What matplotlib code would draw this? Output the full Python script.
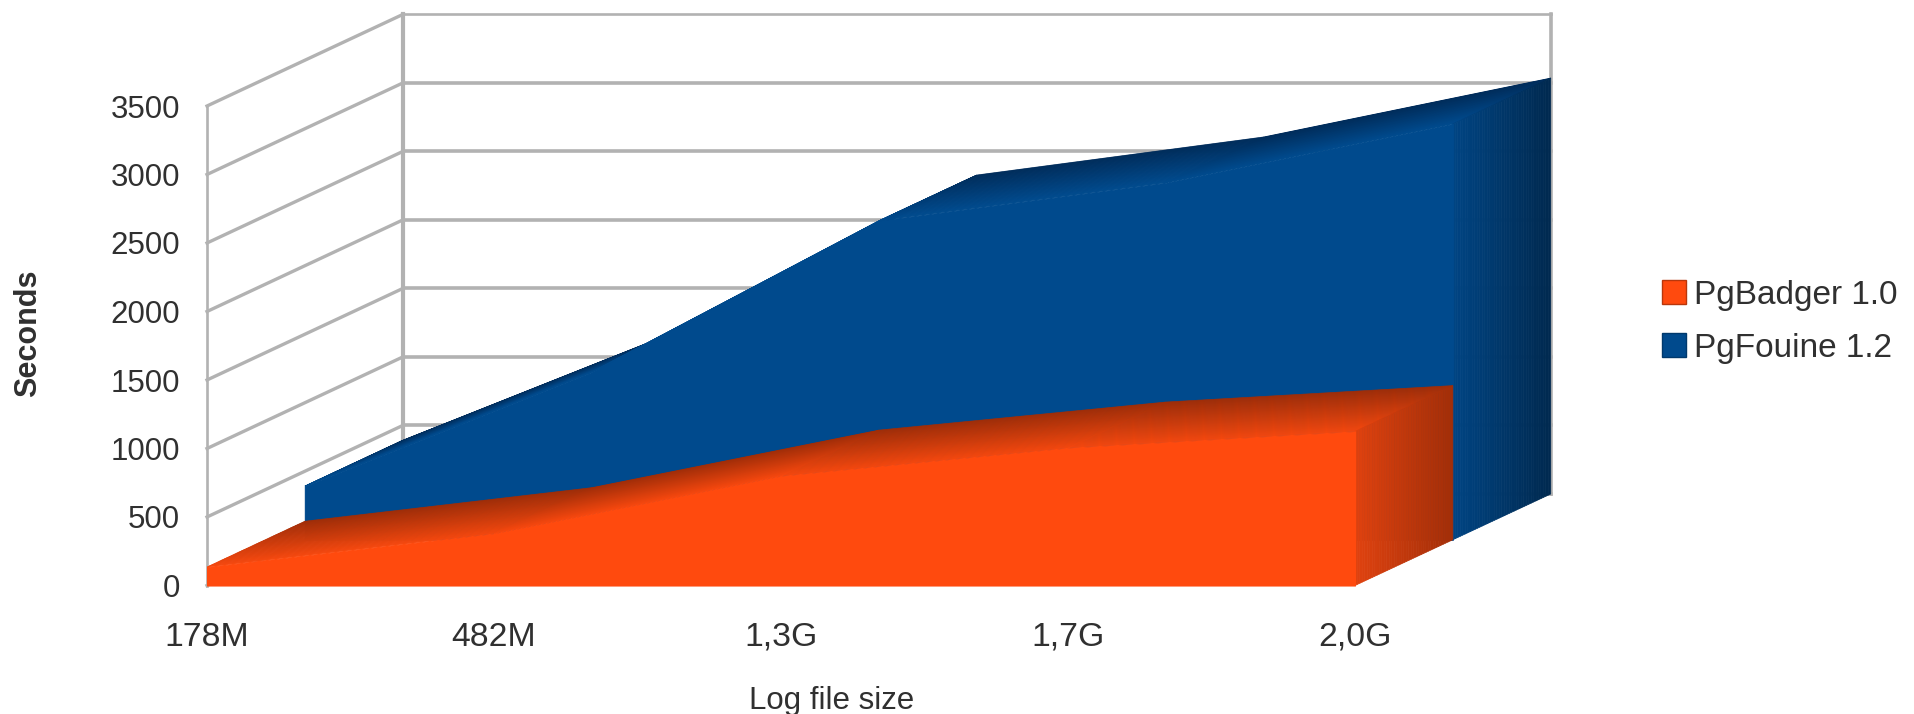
import numpy as np
import matplotlib
matplotlib.use("Agg")
import matplotlib.pyplot as plt
from matplotlib.colors import to_rgb
from matplotlib.patches import Patch

categories = ["178M", "482M", "1,3G", "1,7G", "2,0G"]
pgbadger = [135, 380, 800, 1005, 1125]
pgfouine = [392, 1225, 2328, 2606, 3036]
y_ticks = [0, 500, 1000, 1500, 2000, 2500, 3000, 3500]
series_names = ["PgBadger 1.0", "PgFouine 1.2"]

W, H = 1914, 714
PX_X, PX_Y = 287.0, 0.137      # pixels per category / per unit of value
X0, Y0 = 207.0, 585.5          # pixel of first category, value 0
DX, DY = 0.341, 334.0          # oblique shift for one unit of depth

plt.rcParams['font.family'] = ['Liberation Sans', 'DejaVu Sans']
fig = plt.figure(figsize=(W / 100, H / 100), dpi=100)
ax = fig.add_axes([0, 0, 1, 1])
ax.set_xlim(-X0 / PX_X, (W - X0) / PX_X)
ax.set_ylim((Y0 - H) / PX_Y, Y0 / PX_Y)
ax.axis("off")

GRID = "#b2b2b2"
TXT = "#303030"
xs = np.arange(len(categories), dtype=float)
z = [10]


def nz():
    z[0] += 1
    return z[0]


def P(x, v, d):
    return (x + DX * d, v + DY * d)


def mix(a, b, t):
    a, b = np.array(to_rgb(a)), np.array(to_rgb(b))
    return tuple(a + (b - a) * t)


# walls and grid
ymax = y_ticks[-1]
xmax = xs[-1]
for v in y_ticks:
    a, b = P(0, v, 0), P(0, v, 2)
    ax.plot([a[0], b[0]], [a[1], b[1]], color=GRID, lw=2.4, zorder=2)
    c = P(xmax, v, 2)
    lw = 1.9 if v == ymax else 2.6
    ax.plot([b[0], c[0]], [b[1], c[1]], color=GRID, lw=lw, zorder=2)
ax.plot([0, 0], [0, ymax], color=GRID, lw=1.9, zorder=2)
a, b = P(0, 0, 2), P(0, ymax, 2)
ax.plot([a[0], b[0]], [a[1], b[1]], color=GRID, lw=3.0, zorder=2)
a, b = P(xmax, 0, 2), P(xmax, ymax, 2)
ax.plot([a[0], b[0]], [a[1], b[1]], color=GRID, lw=2.6, zorder=2)


def area(vals, d0, d1, front, top_back, top_front, side_l, side_r):
    n = 40
    ts = np.linspace(d1, d0, n + 1)
    for k in range(n):
        col = mix(top_back, top_front, (k + .5) / n)
        for i in range(len(vals) - 1):
            pts = [P(xs[i], vals[i], ts[k]), P(xs[i + 1], vals[i + 1], ts[k]),
                   P(xs[i + 1], vals[i + 1], ts[k + 1]), P(xs[i], vals[i], ts[k + 1])]
            ax.fill(*zip(*pts), color=col, lw=0.5, zorder=nz())
    # right side
    for k in range(n):
        col = mix(side_r, side_l, (k + .5) / n)
        pts = [P(xmax, 0, ts[k]), P(xmax, vals[-1], ts[k]),
               P(xmax, vals[-1], ts[k + 1]), P(xmax, 0, ts[k + 1])]
        ax.fill(*zip(*pts), color=col, lw=0.5, zorder=nz())
    # front face
    fx = xs + DX * d0
    ax.fill_between(fx, DY * d0, np.array(vals, float) + DY * d0,
                    facecolor=front, edgecolor=front, lw=0.8, zorder=nz())


area(pgfouine, 1, 2, "#004a8d", "#002c5a", "#004a8d", "#004483", "#00294f")
area(pgbadger, 0, 1, "#ff4a0e", "#a02d08", "#f4470e", "#e0420f", "#a22e08")

# labels
for v in y_ticks:
    ax.text(-X0 / PX_X + 180 / PX_X, v, str(v), ha="right", va="center_baseline",
            fontsize=22.5, color=TXT, zorder=900)
label_y = (Y0 - 637) / PX_Y
for x, lab in zip(xs, categories):
    ax.text(x, label_y, lab, ha="center", va="center", fontsize=24.3, color=TXT, zorder=900)
ax.text((832 - X0) / PX_X, (Y0 - 701) / PX_Y, "Log file size", ha="center", va="center",
        fontsize=22.5, color=TXT, zorder=900)
ax.text((28 - X0) / PX_X, (Y0 - 333) / PX_Y, "Seconds", rotation=90, ha="center", va="center",
        fontsize=22, fontweight="bold", color=TXT, zorder=900)

handles = [Patch(facecolor="#ff4a0e", edgecolor="#b8370c", lw=1, label=series_names[0]),
           Patch(facecolor="#004a8d", edgecolor="#00396c", lw=1, label=series_names[1])]
leg = fig.legend(handles=handles, loc="upper left", bbox_to_anchor=(1645 / W, 1 - 263 / H),
                 frameon=False, fontsize=24, handlelength=0.72, handleheight=0.72,
                 handletextpad=0.24, labelspacing=0.66, borderpad=0, labelcolor=TXT)
leg.set_zorder(1000)

fig.savefig("out.png", dpi=100, facecolor="white")
